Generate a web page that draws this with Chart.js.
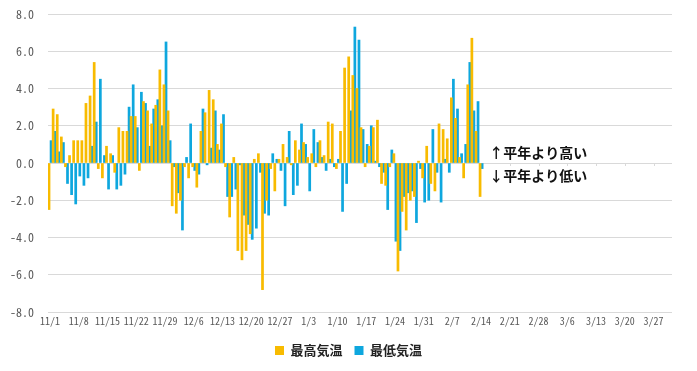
<!DOCTYPE html>
<html lang="ja">
<head>
<meta charset="utf-8">
<script src="https://cdn.jsdelivr.net/npm/chart.js@4.4.1/dist/chart.umd.min.js"></script>
<style>
  html, body { margin: 0; padding: 0; background: #fff; }
  #wrap { width: 697px; height: 371px; }
</style>
</head>
<body>
<div id="wrap"><canvas id="chart" width="697" height="371"></canvas></div>
<script>
// 平年差（℃）2023/11/1 〜 2024/2/14
const maxTempDiff = [
  -2.5, 2.9, 2.6, 1.4, -0.2, 0.4, 1.2, 1.2, 1.2, 3.2,
  3.6, 5.4, -0.3, -0.8, 0.9, 0.5, -0.5, 1.9, 1.7, 1.7,
  2.5, 2.5, -0.4, 3.3, 2.8, 2.1, 3.1, 5.0, 4.2, 2.8,
  -2.3, -2.7, -2.0, -0.2, -0.8, -0.2, -1.3, 1.7, 2.7, 3.9,
  3.4, 1.0, 2.1, -0.2, -2.9, 0.3, -4.7, -5.2, -4.7, -3.8,
  0.2, 0.5, -6.8, -2.0, -0.3, -1.5, 0.2, 1.0, 0.3, -0.1,
  1.2, 0.7, 1.1, 0.3, 0.5, -0.2, 1.2, 0.4, 2.2, 2.1,
  -0.3, 1.7, 5.1, 5.7, 4.7, 4.0, 1.9, -0.2, 0.9, 1.9,
  2.3, -1.1, -1.2, -0.2, 0.5, -5.8, -2.6, -3.6, -2.0, -1.8,
  0.1, -0.8, 0.9, -1.1, -1.5, 2.1, 1.8, 1.3, 3.5, 2.4,
  0.3, -0.8, 4.2, 6.7, 1.7, -1.8
];
const minTempDiff = [
  1.2, 1.7, 0.6, 1.1, -1.1, -1.7, -2.2, -0.7, -1.2, -0.8,
  0.9, 2.2, 4.5, 0.4, -1.4, 0.4, -1.4, -1.2, -0.6, 3.0,
  4.2, 1.9, 3.8, 3.2, 0.9, 2.9, 3.4, 2.0, 6.5, 1.2,
  -0.2, -1.6, -3.6, 0.3, 2.1, -0.4, -0.6, 2.9, -0.1, 0.8,
  2.8, 0.7, 2.6, -1.8, -1.8, -1.4, -0.1, -2.8, -3.3, -4.1,
  -3.5, -0.5, -2.7, -2.8, 0.5, 0.2, -0.4, -2.3, 1.7, -1.7,
  -1.2, 2.1, 1.0, -1.5, 1.8, 1.1, 0.3, -0.4, 0.2, -0.2,
  0.2, -2.6, -1.1, 2.8, 7.3, 6.6, 1.8, 1.0, 2.0, 0.1,
  -0.2, -0.5, -2.5, 0.7, -4.2, -4.7, -1.8, -1.6, -1.5, -3.2,
  -0.3, -2.1, -2.0, 1.8, -0.5, -2.1, 0.2, -0.5, 4.5, 2.9,
  0.5, 1.0, 5.4, 2.8, 3.3, -0.3
];
const seriesNames = ['最高気温', '最低気温'];
const seriesColors = ['#F8BB00', '#0EA7DE'];
const yTicks = [-8, -6, -4, -2, 0, 2, 4, 6, 8];
const noteTexts = ['↑平年より高い', '↓平年より低い'];

// 2023/11/1 〜 2024/3/31 の日付ラベル
const startDate = new Date(2023, 10, 1);
const endDate = new Date(2024, 2, 31);
const dayLabels = [];
for (let d = new Date(startDate); d <= endDate; d.setDate(d.getDate() + 1)) {
  dayLabels.push((d.getMonth() + 1) + '/' + d.getDate());
}
const pad = arr => dayLabels.map((_, i) => (i < arr.length ? arr[i] : null));

const monoFont = "'Noto Sans Mono CJK JP', 'DejaVu Sans Mono', monospace";
const jpFont = "'Noto Sans CJK JP', 'Noto Sans', sans-serif";

// 凡例をキャンバス全幅の中央に置く
const legendCenterPlugin = {
  id: 'legendCenter',
  afterLayout(chart) {
    const lg = chart.legend;
    if (!lg) return;
    lg.left = 0;
    lg.right = chart.width;
  }
};

// ゼロ線上の目盛りと注記
const zeroLinePlugin = {
  id: 'zeroLine',
  afterDatasetsDraw(chart) {
    const { ctx, scales: { x, y } } = chart;
    const y0 = y.getPixelForValue(0);
    ctx.save();
    ctx.strokeStyle = '#d9d9d9';
    ctx.lineWidth = 1;
    dayLabels.forEach((_, i) => {
      if (i % 7 !== 0 || i < maxTempDiff.length) return;
      const px = Math.round(x.getPixelForValue(i)) + 0.5;
      ctx.beginPath();
      ctx.moveTo(px, y0);
      ctx.lineTo(px, y0 + 3);
      ctx.stroke();
    });
    ctx.fillStyle = '#111';
    ctx.font = "bold 14px 'Noto Sans CJK JP', sans-serif";
    ctx.textAlign = 'left';
    ctx.textBaseline = 'middle';
    const tx = x.getPixelForValue(maxTempDiff.length + 1);
    ctx.fillText(noteTexts[0], tx, y0 - 10.5);
    ctx.fillText(noteTexts[1], tx, y0 + 12.5);
    ctx.restore();
  }
};

new Chart(document.getElementById('chart'), {
  type: 'bar',
  data: {
    labels: dayLabels,
    datasets: [
      {
        label: seriesNames[0],
        data: pad(maxTempDiff),
        backgroundColor: seriesColors[0],
        borderWidth: 0,
        barPercentage: 1,
        categoryPercentage: 1
      },
      {
        label: seriesNames[1],
        data: pad(minTempDiff),
        backgroundColor: seriesColors[1],
        borderWidth: 0,
        barPercentage: 1,
        categoryPercentage: 1
      }
    ]
  },
  options: {
    responsive: false,
    devicePixelRatio: 1,
    animation: false,
    layout: { padding: { left: 0, right: 25, top: 14, bottom: 4 } },
    plugins: {
      legend: {
        position: 'bottom',
        labels: {
          boxWidth: 9,
          boxHeight: 9,
          padding: 12,
          color: '#222',
          font: { family: jpFont, size: 13, weight: 'bold' }
        }
      },
      tooltip: { enabled: false }
    },
    scales: {
      x: {
        grid: { display: false, drawTicks: false },
        border: { display: false },
        ticks: {
          autoSkip: false,
          maxRotation: 0,
          minRotation: 0,
          padding: 3,
          color: '#595959',
          font: { family: monoFont, size: 10 },
          callback: (v, i) => (i % 7 === 0 ? dayLabels[i] : '')
        },
        afterFit: s => { s.height = 20; }
      },
      y: {
        min: yTicks[0],
        max: yTicks[yTicks.length - 1],
        afterBuildTicks: s => { s.ticks = yTicks.map(v => ({ value: v })); },
        grid: { color: '#d9d9d9', drawTicks: false },
        border: { display: false },
        ticks: {
          padding: 14,
          color: '#595959',
          font: { family: monoFont, size: 12 },
          callback: v => v.toFixed(1)
        },
        afterFit: s => {
          s.width = 48;
          s.paddingTop = 6;
          s.paddingBottom = 6;
        }
      }
    }
  },
  plugins: [legendCenterPlugin, zeroLinePlugin]
});
</script>
</body>
</html>
